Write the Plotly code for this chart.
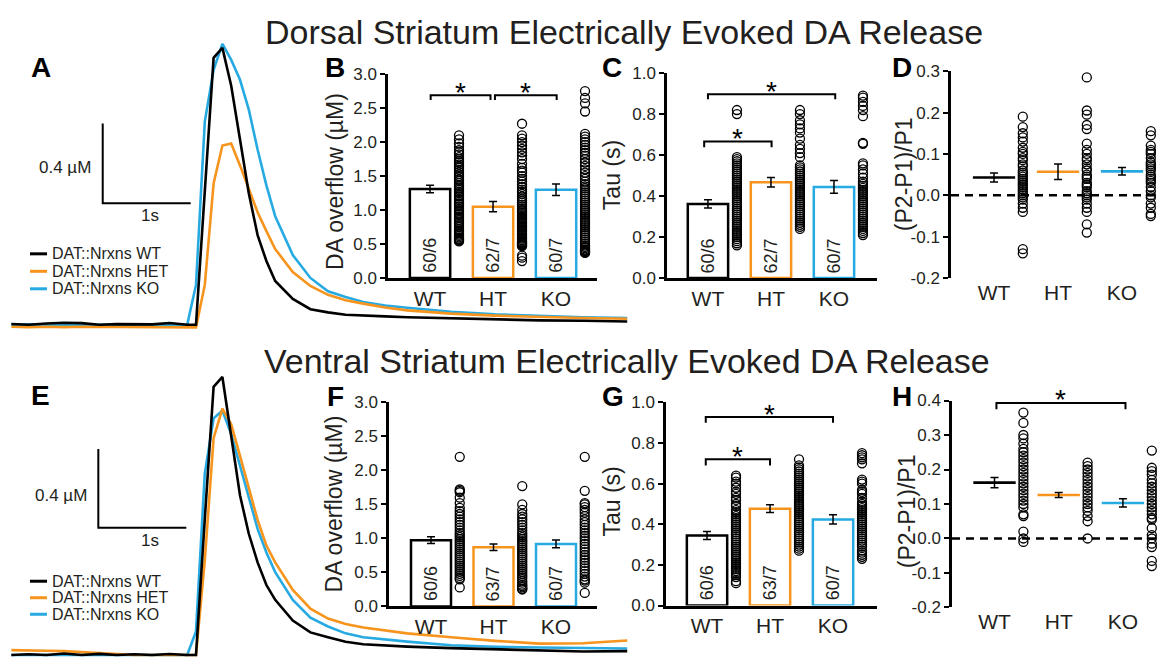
import plotly.graph_objects as go

# ---------------- canvas ----------------
W, H = 1159, 667
FONT = "Liberation Sans, Arial, Helvetica, sans-serif"
INK = "#231f20"

GROUPS = ["WT", "HT", "KO"]
GROUP_COLORS = ["#000000", "#F7941D", "#27AAE1"]
TRACE_NAMES = ["DAT::Nrxns WT", "DAT::Nrxns HET", "DAT::Nrxns KO"]

# ---------------- averaged evoked traces (µM vs s) ----------------
time_s = [0.0, 0.2, 0.4, 0.6, 0.8, 1.0, 1.2, 1.4, 1.6, 1.8, 2.0,
          2.1, 2.2, 2.3, 2.4, 2.5, 2.6, 2.7, 2.8, 2.9, 3.0,
          3.2, 3.4, 3.6, 3.8, 4.0, 4.25, 4.5, 5.0, 5.5, 6.0, 6.5, 7.0]

dorsal_wt = [0.004, 0.0, 0.006, 0.010, 0.008, 0.0, 0.003, 0.004, 0.002, 0.009, 0.0,
             0.0, 0.67, 1.34, 1.39, 1.20, 0.93, 0.66, 0.45, 0.32, 0.22,
             0.13, 0.078, 0.062, 0.050, 0.045, 0.042, 0.038, 0.032, 0.026, 0.022, 0.020, 0.016]
dorsal_het = [-0.010, -0.012, -0.010, -0.012, -0.010, -0.011, -0.012, -0.010, -0.012, -0.012, -0.013,
              -0.013, 0.20, 0.71, 0.90, 0.91, 0.80, 0.68, 0.565, 0.47, 0.38,
              0.265, 0.195, 0.150, 0.123, 0.106, 0.087, 0.072, 0.056, 0.046, 0.039, 0.034, 0.030]
dorsal_ko = [0.0, 0.002, 0.0, 0.0, 0.002, 0.0, 0.0, 0.0, 0.0, 0.0, 0.0,
             0.20, 1.02, 1.28, 1.41, 1.33, 1.23, 1.08, 0.88, 0.70, 0.545,
             0.35, 0.235, 0.168, 0.139, 0.114, 0.097, 0.085, 0.065, 0.052, 0.044, 0.038, 0.034]

ventral_wt = [0.0, 0.004, 0.0, 0.008, 0.0, 0.006, 0.0, 0.004, 0.0, 0.005, 0.0,
              0.0, 0.69, 1.36, 1.41, 1.12, 0.81, 0.615, 0.47, 0.355, 0.28,
              0.175, 0.115, 0.090, 0.067, 0.055, 0.048, 0.043, 0.035, 0.030, 0.022, 0.018, 0.020]
ventral_het = [0.025, 0.025, 0.022, 0.020, 0.015, 0.010, 0.005, 0.0, 0.0, 0.0, 0.0,
               0.0, 0.48, 1.10, 1.25, 1.17, 1.01, 0.84, 0.685, 0.555, 0.47,
               0.33, 0.235, 0.185, 0.157, 0.140, 0.125, 0.110, 0.090, 0.072, 0.058, 0.060, 0.074]
ventral_ko = [0.0, 0.0, 0.002, 0.0, 0.0, 0.002, 0.0, 0.0, 0.0, 0.0, 0.0,
              0.12, 0.92, 1.20, 1.24, 1.12, 0.96, 0.79, 0.64, 0.52, 0.42,
              0.28, 0.19, 0.145, 0.110, 0.090, 0.078, 0.068, 0.050, 0.042, 0.038, 0.035, 0.033]

SCALE_UM = 0.4   # vertical scale bar
SCALE_S = 1.0    # horizontal scale bar

# ---------------- group summaries ----------------
overflow_dorsal_mean = [1.31, 1.05, 1.30]
overflow_dorsal_sem = [0.055, 0.075, 0.085]
tau_dorsal_mean = [0.362, 0.468, 0.445]
tau_dorsal_sem = [0.020, 0.023, 0.031]
ppr_dorsal_mean = [0.043, 0.057, 0.058]
ppr_dorsal_sem = [0.011, 0.019, 0.009]
n_dorsal = ["60/6", "62/7", "60/7"]

overflow_ventral_mean = [0.975, 0.87, 0.92]
overflow_ventral_sem = [0.050, 0.048, 0.058]
tau_ventral_mean = [0.345, 0.477, 0.424]
tau_ventral_sem = [0.020, 0.019, 0.023]
ppr_ventral_mean = [0.162, 0.126, 0.103]
ppr_ventral_sem = [0.015, 0.007, 0.012]
n_ventral = ["60/6", "63/7", "60/7"]

# ---------------- individual recordings ----------------
overflow_dorsal_wt = [2.10, 2.04, 1.98, 1.93, 1.88, 1.85, 1.82, 1.78, 1.75, 1.72, 1.70, 1.67, 1.64, 1.62,
                      1.59, 1.56, 1.53, 1.50, 1.48, 1.45, 1.43, 1.40, 1.37, 1.35, 1.32, 1.30, 1.27, 1.25,
                      1.22, 1.20, 1.17, 1.15, 1.12, 1.10, 1.08, 1.05, 1.02, 1.00, 0.98, 0.95, 0.93, 0.90,
                      0.88, 0.85, 0.82, 0.80, 0.78, 0.75, 0.72, 0.70, 0.68, 0.66, 0.64, 0.62, 0.60, 0.58,
                      0.57, 0.56, 0.55, 0.54]
overflow_dorsal_ht = [2.27, 2.10, 2.05, 2.00, 1.95, 1.90, 1.85, 1.80, 1.75, 1.68, 1.62, 1.58, 1.55, 1.50,
                      1.46, 1.42, 1.38, 1.34, 1.30, 1.27, 1.24, 1.20, 1.17, 1.14, 1.11, 1.08, 1.05, 1.02,
                      1.00, 0.98, 0.96, 0.94, 0.92, 0.90, 0.88, 0.86, 0.84, 0.82, 0.80, 0.78, 0.76, 0.74,
                      0.72, 0.70, 0.68, 0.66, 0.64, 0.62, 0.60, 0.58, 0.56, 0.54, 0.53, 0.52, 0.51, 0.50,
                      0.49, 0.48, 0.47, 0.33, 0.30, 0.25]
overflow_dorsal_ko = [2.75, 2.65, 2.57, 2.45, 2.12, 2.08, 2.04, 2.00, 1.96, 1.92, 1.88, 1.84, 1.80, 1.75,
                      1.70, 1.65, 1.60, 1.55, 1.50, 1.46, 1.42, 1.38, 1.35, 1.32, 1.29, 1.26, 1.23, 1.20,
                      1.17, 1.14, 1.11, 1.08, 1.05, 1.02, 0.99, 0.96, 0.93, 0.90, 0.87, 0.84, 0.81, 0.78,
                      0.75, 0.72, 0.69, 0.66, 0.63, 0.60, 0.57, 0.54, 0.51, 0.48, 0.46, 0.44, 0.42, 0.41,
                      0.40, 0.39, 0.38, 0.37]

tau_dorsal_wt = [0.82, 0.80, 0.59, 0.58, 0.57, 0.56, 0.55, 0.54, 0.53, 0.52, 0.51, 0.50, 0.49, 0.48,
                 0.47, 0.46, 0.45, 0.44, 0.43, 0.42, 0.41, 0.40, 0.39, 0.38, 0.37, 0.36, 0.35, 0.34,
                 0.33, 0.32, 0.31, 0.30, 0.29, 0.28, 0.27, 0.26, 0.25, 0.24, 0.23, 0.22, 0.21, 0.20,
                 0.19, 0.18, 0.17, 0.16]
tau_dorsal_ht = [0.82, 0.80, 0.77, 0.75, 0.73, 0.71, 0.68, 0.65, 0.63, 0.61, 0.59, 0.55, 0.54, 0.53,
                 0.52, 0.51, 0.50, 0.49, 0.48, 0.47, 0.46, 0.45, 0.44, 0.43, 0.42, 0.41, 0.40, 0.39,
                 0.38, 0.37, 0.36, 0.35, 0.34, 0.33, 0.32, 0.31, 0.30, 0.29, 0.28, 0.27, 0.26, 0.25, 0.24]
tau_dorsal_ko = [0.89, 0.88, 0.86, 0.84, 0.82, 0.79, 0.66, 0.655, 0.56, 0.55, 0.53, 0.51, 0.49, 0.47,
                 0.46, 0.45, 0.44, 0.43, 0.42, 0.41, 0.40, 0.39, 0.38, 0.37, 0.36, 0.35, 0.34, 0.33,
                 0.32, 0.31, 0.30, 0.29, 0.28, 0.27, 0.26, 0.25, 0.24, 0.23, 0.22, 0.21]

ppr_dorsal_wt = [0.19, 0.165, 0.15, 0.14, 0.13, 0.115, 0.105, 0.10, 0.09, 0.085, 0.075, 0.07, 0.06,
                 0.055, 0.05, 0.045, 0.04, 0.035, 0.03, 0.025, 0.02, 0.015, 0.01, 0.005, 0.0, -0.005,
                 -0.01, -0.02, -0.03, -0.04, -0.13, -0.14]
ppr_dorsal_ht = [0.285, 0.205, 0.195, 0.17, 0.16, 0.125, 0.11, 0.10, 0.09, 0.085, 0.075, 0.065, 0.06,
                 0.05, 0.045, 0.04, 0.03, 0.025, 0.02, 0.01, 0.005, 0.0, -0.005, -0.01, -0.02, -0.03,
                 -0.04, -0.07, -0.09]
ppr_dorsal_ko = [0.155, 0.145, 0.12, 0.11, 0.105, 0.10, 0.09, 0.08, 0.075, 0.07, 0.065, 0.06, 0.05,
                 0.045, 0.04, 0.035, 0.03, 0.02, 0.01, 0.0, -0.005, -0.02, -0.03, -0.045, -0.05]

overflow_ventral_wt = [2.20, 1.72, 1.70, 1.68, 1.60, 1.52, 1.45, 1.40, 1.36, 1.32, 1.28, 1.24, 1.20,
                       1.16, 1.12, 1.08, 1.05, 1.02, 0.99, 0.96, 0.93, 0.90, 0.87, 0.84, 0.81, 0.78,
                       0.75, 0.72, 0.69, 0.66, 0.63, 0.60, 0.57, 0.54, 0.51, 0.48, 0.45, 0.42, 0.40, 0.28]
overflow_ventral_ht = [1.77, 1.50, 1.42, 1.36, 1.32, 1.28, 1.24, 1.20, 1.16, 1.12, 1.08, 1.05, 1.02,
                       0.99, 0.96, 0.93, 0.90, 0.87, 0.84, 0.81, 0.78, 0.75, 0.72, 0.69, 0.66, 0.63,
                       0.60, 0.57, 0.54, 0.51, 0.48, 0.45, 0.42, 0.38, 0.35, 0.32, 0.30, 0.28, 0.26, 0.25]
overflow_ventral_ko = [2.20, 1.70, 1.52, 1.50, 1.46, 1.42, 1.38, 1.33, 1.28, 1.24, 1.20, 1.16, 1.12,
                       1.08, 1.04, 1.00, 0.96, 0.92, 0.88, 0.84, 0.80, 0.76, 0.72, 0.68, 0.64, 0.60,
                       0.56, 0.52, 0.48, 0.44, 0.40, 0.38, 0.35, 0.20]

tau_ventral_wt = [0.64, 0.63, 0.61, 0.60, 0.58, 0.56, 0.55, 0.53, 0.52, 0.50, 0.49, 0.47, 0.46, 0.45,
                  0.44, 0.43, 0.42, 0.41, 0.40, 0.39, 0.38, 0.37, 0.36, 0.35, 0.34, 0.33, 0.32, 0.31,
                  0.30, 0.29, 0.28, 0.27, 0.26, 0.25, 0.24, 0.23, 0.22, 0.21, 0.20, 0.19, 0.18, 0.17,
                  0.16, 0.15, 0.14, 0.12, 0.11]
tau_ventral_ht = [0.72, 0.69, 0.68, 0.67, 0.66, 0.65, 0.64, 0.63, 0.62, 0.61, 0.60, 0.59, 0.58, 0.57,
                  0.56, 0.55, 0.54, 0.53, 0.52, 0.51, 0.50, 0.49, 0.48, 0.47, 0.46, 0.45, 0.44, 0.43,
                  0.42, 0.41, 0.40, 0.39, 0.38, 0.37, 0.36, 0.35, 0.34, 0.33, 0.32, 0.31, 0.30, 0.29,
                  0.28, 0.27]
tau_ventral_ko = [0.75, 0.74, 0.73, 0.72, 0.70, 0.62, 0.61, 0.60, 0.57, 0.56, 0.55, 0.53, 0.51, 0.50,
                  0.49, 0.48, 0.47, 0.46, 0.45, 0.44, 0.43, 0.42, 0.41, 0.40, 0.39, 0.38, 0.37, 0.36,
                  0.35, 0.34, 0.33, 0.32, 0.31, 0.30, 0.29, 0.27, 0.26, 0.25, 0.24, 0.23]

ppr_ventral_wt = [0.365, 0.335, 0.30, 0.29, 0.275, 0.26, 0.25, 0.24, 0.23, 0.22, 0.21, 0.20, 0.19,
                  0.18, 0.17, 0.16, 0.15, 0.14, 0.13, 0.12, 0.11, 0.10, 0.09, 0.07, 0.065, 0.02, 0.0, -0.01]
ppr_ventral_ht = [0.22, 0.21, 0.20, 0.19, 0.18, 0.17, 0.16, 0.15, 0.14, 0.13, 0.12, 0.11, 0.10,
                  0.09, 0.08, 0.065, 0.05, 0.0]
ppr_ventral_ko = [0.255, 0.205, 0.195, 0.185, 0.17, 0.16, 0.15, 0.14, 0.13, 0.12, 0.11, 0.10, 0.09,
                  0.08, 0.07, 0.06, 0.055, 0.03, 0.01, 0.0, -0.015, -0.025, -0.065, -0.08]


# ---------------- helpers ----------------
def fx(p):
    return p / W


def fy(p):
    return 1 - p / H


fig = go.Figure()
layout = {}
annotations = []
shapes = []


def names(k):
    s = "" if k == 1 else str(k)
    return "xaxis" + s, "yaxis" + s, "x" + s, "y" + s


def text(x, y, s, size, xref="paper", yref="paper", xanchor="center", yanchor="middle",
         angle=0, bold=False, color=INK, yshift=0):
    annotations.append(dict(
        x=x, y=y, xref=xref, yref=yref, text=f"<b>{s}</b>" if bold else s, showarrow=False,
        xanchor=xanchor, yanchor=yanchor, textangle=angle, yshift=yshift,
        font=dict(family=FONT, size=size, color=color)))


def trace_panel(k, series, base_px, px_per_um, top_px, bottom_px, sb_t, sb_y,
                um_label, s_label, legend_rows):
    xa, ya, xr, yr = names(k)
    t0_px, px_per_s, t_max = 11.2, 88.0, 7.03
    layout[xa] = dict(domain=[fx(t0_px), fx(t0_px + px_per_s * t_max)], range=[0, t_max],
                      visible=False, anchor=yr, fixedrange=True)
    layout[ya] = dict(domain=[fy(bottom_px), fy(top_px)],
                      range=[(base_px - bottom_px) / px_per_um, (base_px - top_px) / px_per_um],
                      visible=False, anchor=xr, fixedrange=True)
    for name, color, vals in reversed(list(zip(TRACE_NAMES, GROUP_COLORS, series))):
        fig.add_trace(go.Scatter(x=time_s, y=vals, mode="lines", name=name,
                                 line=dict(color=color, width=2.6),
                                 xaxis=xr, yaxis=yr, showlegend=False, hoverinfo="skip"))
    # L-shaped scale bar
    shapes.append(dict(type="path", xref=xr, yref=yr,
                       path=f"M {sb_t},{sb_y + SCALE_UM} L {sb_t},{sb_y} L {sb_t + SCALE_S},{sb_y}",
                       line=dict(color="black", width=2)))
    text(um_label[0], um_label[1], "0.4 µM", 17, xref=xr, yref=yr, xanchor="right")
    text(s_label[0], s_label[1], "1s", 17, xref=xr, yref=yr)
    # key
    for name, color, yrow in zip(TRACE_NAMES, GROUP_COLORS, legend_rows):
        shapes.append(dict(type="line", xref="paper", yref="paper", x0=fx(30), x1=fx(47),
                           y0=fy(yrow), y1=fy(yrow), line=dict(color=color, width=3)))
        text(fx(50), fy(yrow), name, 16, xanchor="left")


def y_axis(k, dom_px, yrange, tickvals, ticktext):
    xa, ya, xr, yr = names(k)
    layout[ya] = dict(domain=[fy(dom_px[0]), fy(dom_px[1])], range=yrange, anchor=xr,
                      showline=True, linecolor="black", linewidth=2.5, mirror=False,
                      ticks="outside", ticklen=5, tickwidth=2, tickcolor="black",
                      tickvals=tickvals, ticktext=ticktext,
                      tickfont=dict(family=FONT, size=17, color=INK),
                      showgrid=False, zeroline=False, fixedrange=True)


def x_axis(k, dom_px, xrange, show_line):
    xa, ya, xr, yr = names(k)
    layout[xa] = dict(domain=[fx(dom_px[0]), fx(dom_px[1])], range=xrange, anchor=yr,
                      showline=show_line, linecolor="black", linewidth=2.5, ticks="",
                      tickvals=[0, 1, 2], ticktext=GROUPS,
                      tickfont=dict(family=FONT, size=21, color=INK),
                      showgrid=False, zeroline=False, fixedrange=True)


def dots(k, groups_vals, dx):
    xa, ya, xr, yr = names(k)
    for i, vals in enumerate(groups_vals):
        fig.add_trace(go.Scatter(
            x=[i + dx] * len(vals), y=vals, mode="markers", xaxis=xr, yaxis=yr,
            marker=dict(symbol="circle-open", size=9, color="black", line=dict(width=1.3)),
            showlegend=False, hoverinfo="skip", cliponaxis=False))


def bracket(k, xa_, xb_, ytop, ydrop):
    xa, ya, xr, yr = names(k)
    fig.add_trace(go.Scatter(x=[xa_, xa_, xb_, xb_], y=[ydrop, ytop, ytop, ydrop], mode="lines",
                             line=dict(color="black", width=2), xaxis=xr, yaxis=yr,
                             showlegend=False, hoverinfo="skip"))
    text((xa_ + xb_) / 2, ytop, "*", 28, xref=xr, yref=yr, yanchor="middle", yshift=3, color="black")


def bar_panel(k, xdom, ydom, xrange, yrange, tickvals, ticktext, means, sems, points,
              n_labels, brackets, title, title_px):
    xa, ya, xr, yr = names(k)
    x_axis(k, xdom, xrange, True)
    y_axis(k, ydom, yrange, tickvals, ticktext)
    fig.add_trace(go.Bar(
        x=[0, 1, 2], y=means, width=0.64, xaxis=xr, yaxis=yr,
        marker=dict(color="white", line=dict(color=GROUP_COLORS, width=2.5)),
        error_y=dict(type="data", array=sems, color="black", thickness=1.5, width=4),
        showlegend=False, hoverinfo="skip"))
    dots(k, points, 0.46)
    for i, lab in enumerate(n_labels):
        text(i, 0.11, lab, 18, xref=xr, yref=yr + " domain", angle=-90)
    for b in brackets:
        bracket(k, *b)
    text(fx(title_px[0]), fy(title_px[1]), title, 23, angle=-90)


def mean_panel(k, xdom, ydom, xrange, yrange, tickvals, ticktext, means, sems, points,
               brackets, title, title_px):
    xa, ya, xr, yr = names(k)
    x_axis(k, xdom, xrange, False)
    y_axis(k, ydom, yrange, tickvals, ticktext)
    shapes.append(dict(type="line", xref=xr + " domain", yref=yr, x0=0, x1=1, y0=0, y1=0,
                       line=dict(color="black", width=2.5, dash="8px,6px")))
    dots(k, points, 0.45)
    for i, (m, c) in enumerate(zip(means, GROUP_COLORS)):
        fig.add_trace(go.Scatter(x=[i - 0.33, i + 0.33], y=[m, m], mode="lines",
                                 line=dict(color=c, width=2.6), xaxis=xr, yaxis=yr,
                                 showlegend=False, hoverinfo="skip"))
    fig.add_trace(go.Scatter(x=[0, 1, 2], y=means, mode="markers", xaxis=xr, yaxis=yr,
                             marker=dict(size=1, color="rgba(0,0,0,0)"),
                             error_y=dict(type="data", array=sems, color="black",
                                          thickness=1.5, width=4),
                             showlegend=False, hoverinfo="skip"))
    for b in brackets:
        bracket(k, *b)
    text(fx(title_px[0]), fy(title_px[1]), title, 23, angle=-90)


# ---------------- dorsal row ----------------
trace_panel(1, [dorsal_wt, dorsal_het, dorsal_ko], base_px=325, px_per_um=205,
            top_px=30, bottom_px=330, sb_t=1.04, sb_y=0.61,
            um_label=(0.93, 0.79), s_label=(1.58, 0.55), legend_rows=[252, 270, 288])

bar_panel(2, (388, 597), (277, 67), [-0.667, 2.65], [0, 3],
          [0, 0.5, 1, 1.5, 2, 2.5, 3], ["0.0", "0.5", "1.0", "1.5", "2.0", "2.5", "3.0"],
          overflow_dorsal_mean, overflow_dorsal_sem,
          [overflow_dorsal_wt, overflow_dorsal_ht, overflow_dorsal_ko], n_dorsal,
          [(0.01, 0.96, 2.69, 2.62), (1.03, 2.01, 2.69, 2.62)],
          "DA overflow (µM)", (335, 178))

bar_panel(3, (667, 877), (277, 66), [-0.65, 2.683], [0, 1],
          [0, 0.2, 0.4, 0.6, 0.8, 1.0], ["0.0", "0.2", "0.4", "0.6", "0.8", "1.0"],
          tau_dorsal_mean, tau_dorsal_sem,
          [tau_dorsal_wt, tau_dorsal_ht, tau_dorsal_ko], n_dorsal,
          [(0.0, 2.02, 0.897, 0.872), (-0.06, 1.01, 0.666, 0.638)],
          "Tau (s)", (612, 171))

mean_panel(4, (951, 1159), (277, 64), [-0.672, 2.578], [-0.2, 0.3],
           [-0.2, -0.1, 0, 0.1, 0.2, 0.3], ["-0.2", "-0.1", "0.0", "0.1", "0.2", "0.3"],
           ppr_dorsal_mean, ppr_dorsal_sem,
           [ppr_dorsal_wt, ppr_dorsal_ht, ppr_dorsal_ko], [],
           "(P2-P1)/P1", (904, 170))

# ---------------- ventral row ----------------
trace_panel(5, [ventral_wt, ventral_het, ventral_ko], base_px=665, px_per_um=203,
            top_px=370, bottom_px=667, sb_t=0.99, sb_y=0.645,
            um_label=(0.88, 0.81), s_label=(1.58, 0.58), legend_rows=[589, 606, 623])

bar_panel(6, (389, 597), (615, 405), [-0.672, 2.656], [0, 3],
          [0, 0.5, 1, 1.5, 2, 2.5, 3], ["0.0", "0.5", "1.0", "1.5", "2.0", "2.5", "3.0"],
          overflow_ventral_mean, overflow_ventral_sem,
          [overflow_ventral_wt, overflow_ventral_ht, overflow_ventral_ko], n_ventral,
          [], "DA overflow (µM)", (334, 510))

bar_panel(7, (666, 877), (614, 405), [-0.651, 2.698], [0, 1],
          [0, 0.2, 0.4, 0.6, 0.8, 1.0], ["0.0", "0.2", "0.4", "0.6", "0.8", "1.0"],
          tau_ventral_mean, tau_ventral_sem,
          [tau_ventral_wt, tau_ventral_ht, tau_ventral_ko], n_ventral,
          [(-0.02, 2.0, 0.928, 0.9), (-0.02, 1.0, 0.72, 0.69)],
          "Tau (s)", (612, 507))

mean_panel(8, (952, 1159), (616, 403), [-0.662, 2.562], [-0.2, 0.4],
           [-0.2, -0.1, 0, 0.1, 0.2, 0.3, 0.4], ["-0.2", "-0.1", "0.0", "0.1", "0.2", "0.3", "0.4"],
           ppr_ventral_mean, ppr_ventral_sem,
           [ppr_ventral_wt, ppr_ventral_ht, ppr_ventral_ko],
           [(0.03, 2.04, 0.393, 0.375)],
           "(P2-P1)/P1", (907, 517))

# ---------------- titles and panel letters ----------------
text(fx(624), fy(24), "Dorsal Striatum Electrically Evoked DA Release", 34)
text(fx(627), fy(362), "Ventral Striatum Electrically Evoked DA Release", 34)

for letter, (lx, ly) in zip("ABCDEFGH", [(41, 60), (335, 60), (612, 60), (902, 60),
                                          (40, 398), (335, 399), (613, 399), (902, 399)]):
    text(fx(lx), fy(ly), letter, 28, bold=True, color="black")

fig.update_layout(
    width=W, height=H, margin=dict(l=0, r=0, t=0, b=0),
    paper_bgcolor="white", plot_bgcolor="rgba(0,0,0,0)",
    showlegend=False, annotations=annotations, shapes=shapes,
    font=dict(family=FONT, color=INK), **layout)

fig.write_html("out.html")
